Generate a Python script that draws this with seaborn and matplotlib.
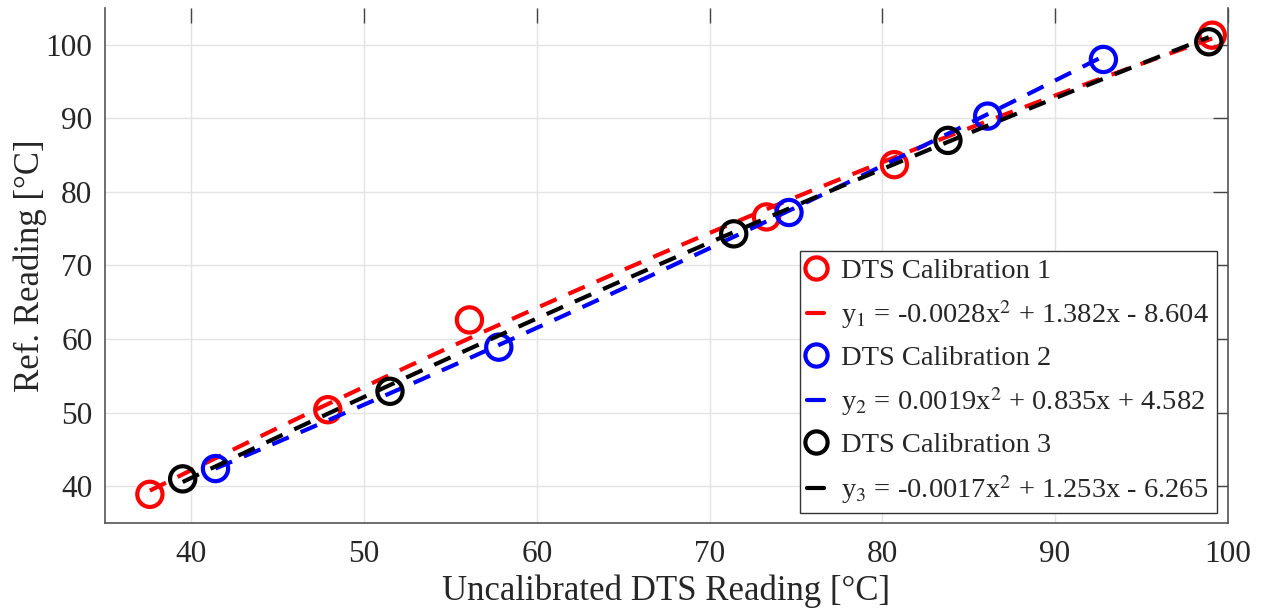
import numpy as np
import pandas as pd
import matplotlib
matplotlib.use("Agg")
import matplotlib.pyplot as plt
import seaborn as sns
from matplotlib.lines import Line2D

# ---- data ----
cal1_x = [37.6, 47.9, 56.1, 73.3, 80.7, 99.1]
cal1_y = [38.9, 50.4, 62.6, 76.6, 83.7, 101.3]
cal2_x = [41.4, 57.8, 74.6, 86.1, 92.8]
cal2_y = [42.4, 58.9, 77.2, 90.3, 98.0]
cal3_x = [39.5, 51.5, 71.4, 83.8, 98.9]
cal3_y = [41.0, 52.9, 74.3, 87.0, 100.4]

fit1 = [-0.0028, 1.382, -8.604]
fit2 = [0.0019, 0.835, 4.582]
fit3 = [-0.0017, 1.253, -6.265]

names = ["DTS Calibration 1", "DTS Calibration 2", "DTS Calibration 3"]
fit_labels = [r"y$_1$ = -0.0028x$^2$ + 1.382x - 8.604",
              r"y$_2$ = 0.0019x$^2$ + 0.835x + 4.582",
              r"y$_3$ = -0.0017x$^2$ + 1.253x - 6.265"]
colors = ["#ff0000", "#0000ff", "#000000"]

x_ticks = [40, 50, 60, 70, 80, 90, 100]
y_ticks = [40, 50, 60, 70, 80, 90, 100]

sns.set_style("white")
plt.rcParams["font.family"] = ["Liberation Serif", "DejaVu Serif"]
plt.rcParams["mathtext.fontset"] = "stix"

fig = plt.figure(figsize=(12.63, 6.11), dpi=100)
ax = fig.add_axes([0.0831, 0.144, 0.889, 0.843])

handles = []
for xs, ys, fit, c, nm, fl in zip([cal1_x, cal2_x, cal3_x], [cal1_y, cal2_y, cal3_y],
                                   [fit1, fit2, fit3], colors, names, fit_labels):
    df = pd.DataFrame({"x": xs, "y": ys})
    sns.scatterplot(data=df, x="x", y="y", ax=ax, marker="o", s=330,
                    facecolors="none", edgecolor=c, linewidth=3.0, zorder=3)
    xx = np.linspace(min(xs), max(xs), 200)
    fdf = pd.DataFrame({"x": xx, "y": np.polyval(fit, xx)})
    sns.lineplot(data=fdf, x="x", y="y", ax=ax, color=c, linewidth=3,
                 linestyle=(0, (4.3, 3.1)), zorder=3)
    handles.append(Line2D([], [], marker="o", linestyle="none", markersize=16,
                          markerfacecolor="none", markeredgecolor=c,
                          markeredgewidth=3.0, label=nm))
    handles.append(Line2D([], [], color=c, linewidth=3, linestyle="-",
                          label=fl))

ax.set_xlim(35, 100)
ax.set_ylim(35, 105)
ax.set_xticks(x_ticks)
ax.set_yticks(y_ticks)
ax.grid(True, color="#e3e3e3", linewidth=1)
ax.tick_params(direction="in", length=11, width=1, colors="#444444",
               labelsize=22.5, top=True, right=True, labelcolor="#262626", pad=9)
ax.tick_params(axis="x", pad=12.5)
for s in ["left", "bottom", "right"]:
    ax.spines[s].set_color("#555555")
    ax.spines[s].set_linewidth(1.2)
ax.spines["top"].set_visible(False)

ax.set_xlabel("Uncalibrated DTS Reading [°C]", fontsize=25, color="#262626", labelpad=4)
ax.set_ylabel("Ref. Reading [°C]", fontsize=25, color="#262626", labelpad=-1)

leg = ax.legend(handles=handles, loc="lower right", bbox_to_anchor=(0.99, 0.02),
                fontsize=20.5, frameon=True, fancybox=False, handlelength=0.6,
                handletextpad=0.6, labelspacing=0.5, borderpad=0.25,
                borderaxespad=0.0)
leg.get_frame().set_edgecolor("#333333")
leg.get_frame().set_linewidth(1)
leg.get_frame().set_alpha(1)

fig.savefig("out.png", dpi=100)
